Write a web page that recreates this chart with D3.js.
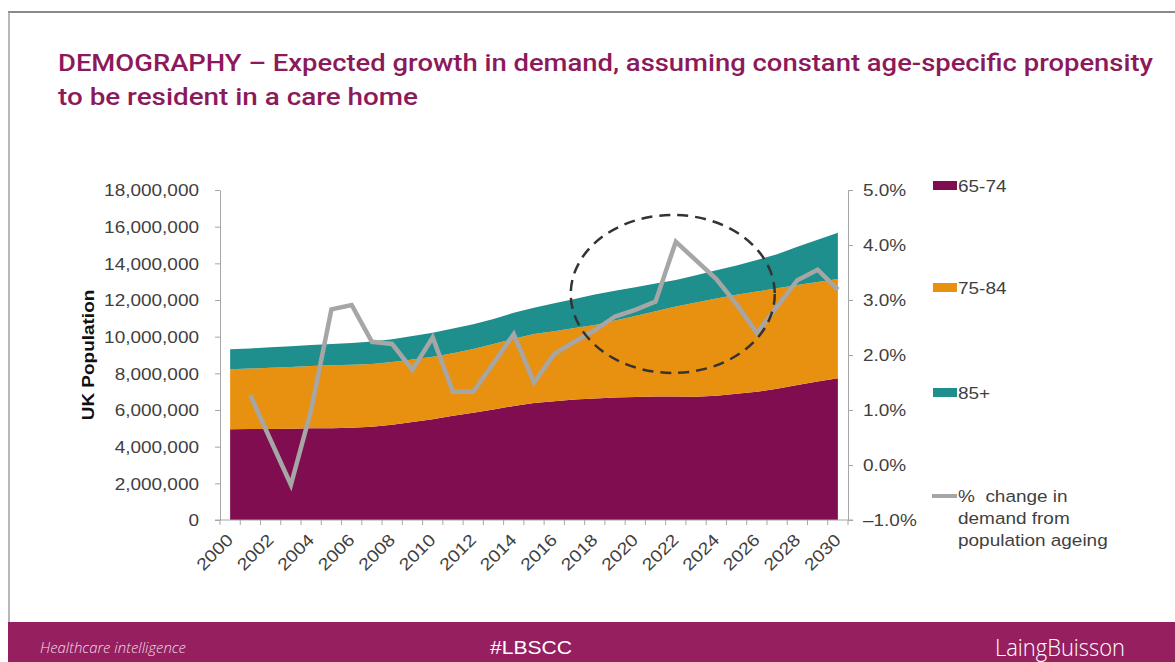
<!DOCTYPE html>
<html>
<head>
<meta charset="utf-8">
<script src="https://cdn.jsdelivr.net/npm/d3@7"></script>
<style>
  html, body { margin: 0; padding: 0; background: #ffffff; }
  svg { display: block; }
</style>
</head>
<body>
<svg id="chart" width="1175" height="662"></svg>
<script>
// ---- data ----
const years = [2000, 2001, 2002, 2003, 2004, 2005, 2006, 2007, 2008, 2009,
               2010, 2011, 2012, 2013, 2014, 2015, 2016, 2017, 2018, 2019,
               2020, 2021, 2022, 2023, 2024, 2025, 2026, 2027, 2028, 2029, 2030];

const age65to74 = [4950000, 4960000, 4970000, 4980000, 5000000, 5010000, 5030000, 5080000, 5200000, 5350000,
                   5500000, 5680000, 5850000, 6030000, 6220000, 6380000, 6480000, 6570000, 6630000, 6680000,
                   6710000, 6730000, 6730000, 6720000, 6780000, 6880000, 7000000, 7160000, 7360000, 7550000, 7730000];

const age75to84 = [3270000, 3300000, 3330000, 3370000, 3400000, 3430000, 3440000, 3430000, 3420000, 3410000,
                   3410000, 3420000, 3480000, 3570000, 3660000, 3770000, 3820000, 3900000, 4010000, 4200000,
                   4420000, 4650000, 4910000, 5140000, 5300000, 5400000, 5460000, 5480000, 5460000, 5430000, 5420000];

const age85plus = [1090000, 1100000, 1120000, 1130000, 1140000, 1160000, 1190000, 1220000, 1240000, 1270000,
                   1310000, 1340000, 1350000, 1370000, 1420000, 1430000, 1520000, 1580000, 1660000, 1620000,
                   1570000, 1520000, 1450000, 1490000, 1540000, 1600000, 1720000, 1860000, 2080000, 2300000, 2520000];

// % change in demand from population ageing (no value for the first year)
const pctChange = [null, 1.27, 0.45, -0.36, 1.00, 2.83, 2.91, 2.24, 2.20, 1.73,
                   2.32, 1.33, 1.33, 1.85, 2.38, 1.50, 2.02, 2.24, 2.45, 2.70,
                   2.82, 2.97, 4.06, 3.72, 3.38, 2.92, 2.40, 2.88, 3.36, 3.55, 3.19];

const leftTicks = [0, 2000000, 4000000, 6000000, 8000000, 10000000, 12000000, 14000000, 16000000, 18000000];
const rightTicks = [-1, 0, 1, 2, 3, 4, 5];
const seriesNames = ["65-74", "75-84", "85+"];
const seriesColors = ["#7f0d50", "#e8900f", "#1f8f8e"];
const lineName = ["% \u00a0change in", "demand from", "population ageing"];
const titleLines = ["DEMOGRAPHY \u2013 Expected growth in demand, assuming constant age-specific propensity",
                    "to be resident in a care home"];

// ---- layout ----
const svg = d3.select("#chart");
const plot = { left: 220, right: 848, top: 190, bottom: 520 };
const textColor = "#3f3f3f";
const axisColor = "#a6a6a6";
const FONT = "'Liberation Sans', Arial, sans-serif";
const SX = 1.15; // horizontal widening of label glyphs

// frame
svg.append("line").attr("x1", 8).attr("x2", 1175).attr("y1", 12).attr("y2", 12)
  .attr("stroke", "#8a8a8a").attr("stroke-width", 2);
svg.append("line").attr("x1", 9).attr("x2", 9).attr("y1", 12).attr("y2", 622)
  .attr("stroke", "#a0a0a0").attr("stroke-width", 1.5);

// title
const titleWidths = [1095, 360];
titleLines.forEach((t, i) => {
  svg.append("text")
    .attr("x", 58).attr("y", 71 + i * 34)
    .attr("font-family", "Roboto, 'Liberation Sans', sans-serif").attr("font-weight", 500)
    .attr("font-size", 24)
    .attr("fill", "#8c1a5b")
    .attr("textLength", titleWidths[i]).attr("lengthAdjust", "spacingAndGlyphs")
    .text(t);
});

// scales
const x = d3.scalePoint().domain(years).range([plot.left, plot.right]).padding(0.5);
const band = d3.scaleBand().domain(years).range([plot.left, plot.right]).paddingInner(0).paddingOuter(0);
const yL = d3.scaleLinear().domain([0, 18000000]).range([plot.bottom, plot.top]);
const yR = d3.scaleLinear().domain([-1, 5]).range([plot.bottom, plot.top]);

// stacked areas
const table = years.map((yr, i) => ({ year: yr, s0: age65to74[i], s1: age75to84[i], s2: age85plus[i] }));
const stacked = d3.stack().keys(["s0", "s1", "s2"])(table);
const area = d3.area()
  .x(d => x(d.data.year))
  .y0(d => yL(d[0]))
  .y1(d => yL(d[1]));
svg.append("g").selectAll("path").data(stacked).join("path")
  .attr("d", area)
  .attr("fill", (d, i) => seriesColors[i]);

// left axis
const gL = svg.append("g").attr("transform", `translate(${plot.left},0)`)
  .call(d3.axisLeft(yL).tickValues(leftTicks).tickSize(5).tickSizeOuter(0)
    .tickFormat(d => d3.format(",")(d)));
gL.select(".domain").attr("stroke", axisColor);
gL.selectAll(".tick line").attr("stroke", axisColor);
gL.selectAll(".tick text")
  .attr("x", -21 / SX).attr("dy", "0.36em")
  .attr("transform", `scale(${SX},1)`)
  .attr("font-family", FONT).attr("font-size", 16.5).attr("fill", textColor);

// right axis
const gR = svg.append("g").attr("transform", `translate(${plot.right},0)`)
  .call(d3.axisRight(yR).tickValues(rightTicks).tickSize(5).tickSizeOuter(0)
    .tickFormat(d => (d < 0 ? "\u2013" : "") + d3.format(".1f")(Math.abs(d)) + "%"));
gR.select(".domain").attr("stroke", axisColor);
gR.selectAll(".tick line").attr("stroke", axisColor);
gR.selectAll(".tick text")
  .attr("x", 15 / SX).attr("dy", "0.36em")
  .attr("transform", `scale(${SX},1)`)
  .attr("font-family", FONT).attr("font-size", 16.5).attr("fill", textColor);

// category axis: line, boundary ticks, even-year labels
const gX = svg.append("g");
gX.append("line").attr("x1", plot.left - 5).attr("x2", plot.right + 5)
  .attr("y1", plot.bottom).attr("y2", plot.bottom).attr("stroke", axisColor);
const bounds = years.map(yr => band(yr)).concat([band(years[years.length - 1]) + band.bandwidth()]);
gX.selectAll("line.tk").data(bounds).join("line").attr("class", "tk")
  .attr("x1", d => d).attr("x2", d => d)
  .attr("y1", plot.bottom).attr("y2", plot.bottom + 5)
  .attr("stroke", axisColor);
gX.selectAll("text").data(years.filter(yr => yr % 2 === 0)).join("text")
  .attr("transform", d => `translate(${x(d) + 4},${plot.bottom + 21}) rotate(-45) scale(${SX},1)`)
  .attr("text-anchor", "end")
  .attr("font-family", FONT).attr("font-size", 17).attr("fill", textColor)
  .text(d => d);

// y axis title
svg.append("text")
  .attr("transform", `translate(94,355) rotate(-90) scale(${SX},1)`)
  .attr("text-anchor", "middle")
  .attr("font-family", FONT).attr("font-size", 16.5).attr("font-weight", "bold")
  .attr("fill", "#111").text("UK Population");

// % change line
const line = d3.line()
  .defined(d => d.v !== null)
  .x(d => x(d.year))
  .y(d => yR(d.v));
svg.append("path")
  .datum(years.map((yr, i) => ({ year: yr, v: pctChange[i] })))
  .attr("d", line)
  .attr("fill", "none").attr("stroke", "#a6a6a6")
  .attr("stroke-width", 4.5).attr("stroke-linejoin", "miter");

// dashed highlight ellipse around the 2022 peak
const hlYear = 2021, hlFrac = 0.85, hlValue = 12330000;
svg.append("ellipse")
  .attr("cx", x(hlYear) + hlFrac * x.step())
  .attr("cy", yL(hlValue))
  .attr("rx", 102).attr("ry", 79)
  .attr("fill", "none").attr("stroke", "#333")
  .attr("stroke-width", 2.5).attr("stroke-dasharray", "11,7");

// legend
const legendY = [186, 288, 393];
const lg = svg.append("g");
seriesNames.forEach((name, i) => {
  lg.append("rect").attr("x", 933).attr("y", legendY[i] - 5).attr("width", 24).attr("height", 9)
    .attr("fill", seriesColors[i]);
  lg.append("text")
    .attr("transform", `translate(958,${legendY[i] + 6}) scale(${SX},1)`)
    .attr("font-family", FONT).attr("font-size", 16.5).attr("fill", textColor)
    .text(name);
});
lg.append("line").attr("x1", 932).attr("x2", 957).attr("y1", 496).attr("y2", 496)
  .attr("stroke", "#a6a6a6").attr("stroke-width", 4);
lineName.forEach((t, i) => {
  lg.append("text")
    .attr("transform", `translate(958,${502 + i * 22}) scale(${SX},1)`)
    .attr("font-family", FONT).attr("font-size", 16.5).attr("fill", textColor)
    .text(t);
});

// footer band
svg.append("rect").attr("x", 8).attr("y", 622).attr("width", 1167).attr("height", 40)
  .attr("fill", "#961f60");
svg.append("text").attr("x", 40).attr("y", 653)
  .attr("font-family", "'Open Sans', sans-serif").attr("font-style", "italic").attr("font-weight", 300)
  .attr("font-size", 15).attr("fill", "#f3dce9")
  .attr("textLength", 146).attr("lengthAdjust", "spacingAndGlyphs")
  .text("Healthcare intelligence");
svg.append("text").attr("x", 531).attr("y", 654).attr("text-anchor", "middle")
  .attr("font-family", FONT).attr("font-size", 19).attr("fill", "#ffffff")
  .attr("textLength", 82).attr("lengthAdjust", "spacingAndGlyphs")
  .text("#LBSCC");
svg.append("text").attr("x", 995).attr("y", 656)
  .attr("font-family", "'Open Sans', sans-serif").attr("font-weight", 300)
  .attr("font-size", 24).attr("fill", "#ffffff")
  .attr("textLength", 130).attr("lengthAdjust", "spacingAndGlyphs")
  .text("LaingBuisson");
</script>
</body>
</html>
